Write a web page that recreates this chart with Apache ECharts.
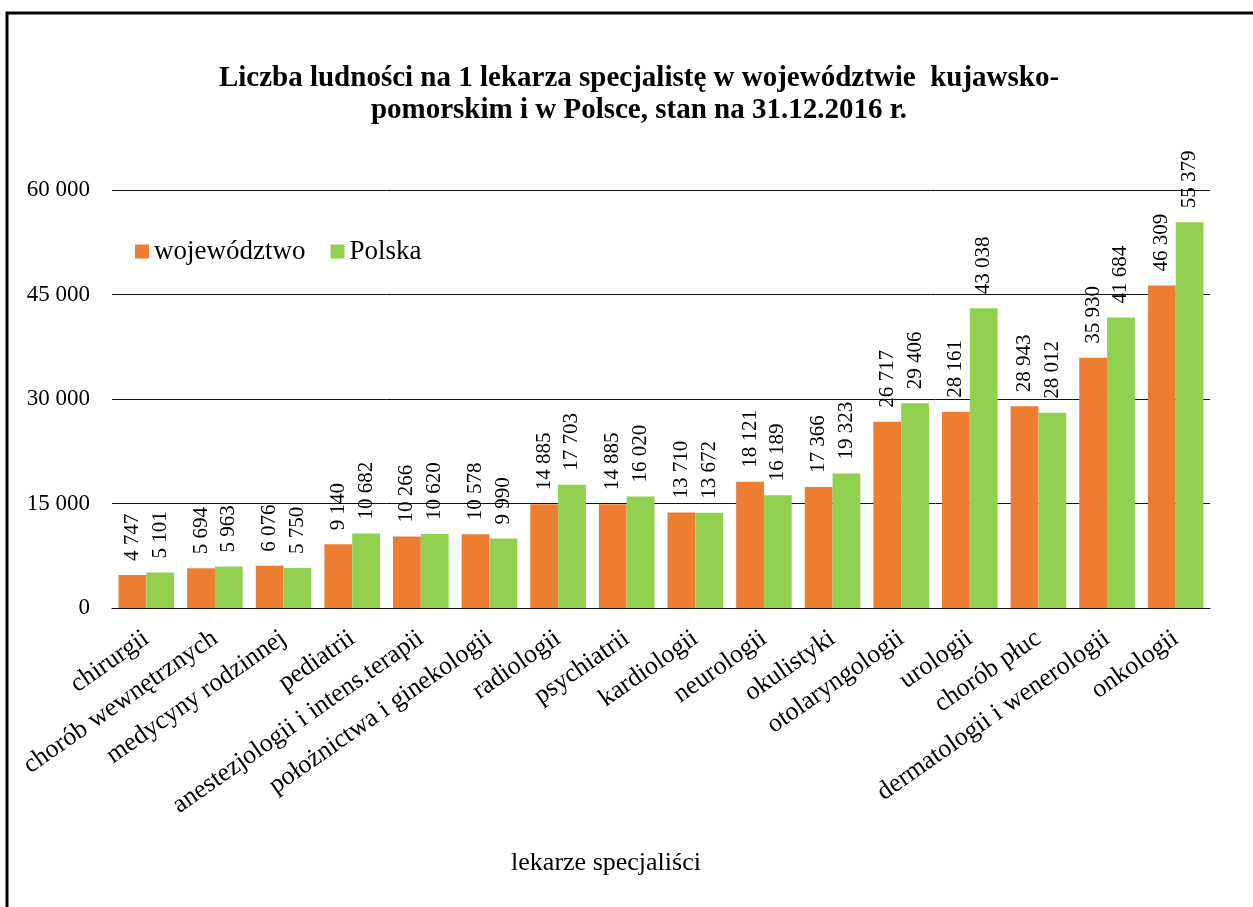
<!DOCTYPE html>
<html>
<head>
<meta charset="utf-8">
<script src="https://cdn.jsdelivr.net/npm/echarts@6/dist/echarts.min.js"></script>
<style>
  html, body { margin: 0; padding: 0; background: #fff; }
  #chart { width: 1253px; height: 907px; }
</style>
</head>
<body>
<div id="chart"></div>
<script>
// Specialisations (x axis)
const categories = [
  'chirurgii', 'chorób wewnętrznych', 'medycyny rodzinnej', 'pediatrii',
  'anestezjologii i intens.terapii', 'położnictwa i ginekologii', 'radiologii',
  'psychiatrii', 'kardiologii', 'neurologii', 'okulistyki', 'otolaryngologii',
  'urologii', 'chorób płuc', 'dermatologii i wenerologii', 'onkologii'
];
// Population per one specialist
const wojewodztwo = [4747, 5694, 6076, 9140, 10266, 10578, 14885, 14885, 13710, 18121, 17366, 26717, 28161, 28943, 35930, 46309];
const polska = [5101, 5963, 5750, 10682, 10620, 9990, 17703, 16020, 13672, 16189, 19323, 29406, 43038, 28012, 41684, 55379];
const seriesNames = ['województwo', 'Polska'];
const titleLines = ['Liczba ludności na 1 lekarza specjalistę w województwie  kujawsko-', 'pomorskim i w Polsce, stan na 31.12.2016 r.'];
const xAxisTitle = 'lekarze specjaliści';

const FONT = '"Liberation Serif", "Times New Roman", serif';
const fmt = v => String(v).replace(/\B(?=(\d{3})+(?!\d))/g, ' ');

const chart = echarts.init(document.getElementById('chart'), null, { renderer: 'canvas' });

const labelCfg = {
  show: true,
  position: 'top',
  rotate: 90,
  align: 'left',
  verticalAlign: 'middle',
  distance: 14,
  fontFamily: FONT,
  fontSize: 21,
  color: '#000',
  formatter: p => fmt(p.value)
};

chart.setOption({
  backgroundColor: '#fff',
  animation: false,
  textStyle: { fontFamily: FONT },
  title: {
    text: titleLines.join('\n'),
    left: 634,
    textAlign: 'center',
    top: 58,
    textStyle: { fontFamily: FONT, fontSize: 29, fontWeight: 'bold', color: '#000', lineHeight: 32 }
  },
  legend: {
    left: 130,
    top: 233,
    itemWidth: 14,
    itemHeight: 14,
    itemGap: 25,
    icon: 'rect',
    textStyle: { fontFamily: FONT, fontSize: 27, color: '#000' },
    data: seriesNames
  },
  grid: { left: 112, right: 43, top: 190, bottom: 299, containLabel: false },
  xAxis: {
    type: 'category',
    data: categories,
    axisLine: { lineStyle: { color: '#111', width: 1 } },
    axisTick: { show: false },
    axisLabel: {
      interval: 0,
      rotate: 35,
      margin: 28,
      fontFamily: FONT,
      fontSize: 26,
      color: '#000'
    }
  },
  yAxis: {
    type: 'value',
    min: 0,
    max: 60000,
    interval: 15000,
    axisLine: { show: false },
    axisTick: { show: false },
    splitLine: { lineStyle: { color: '#111', width: 1 } },
    axisLabel: {
      margin: 22,
      fontFamily: FONT,
      fontSize: 23,
      color: '#000',
      formatter: v => fmt(v)
    }
  },
  series: [
    {
      name: seriesNames[0],
      type: 'bar',
      data: wojewodztwo,
      barGap: '0%',
      barCategoryGap: '19%',
      itemStyle: { color: '#ED7D31' },
      label: labelCfg
    },
    {
      name: seriesNames[1],
      type: 'bar',
      data: polska,
      itemStyle: { color: '#92D050' },
      label: labelCfg
    }
  ],
  graphic: [
    {
      type: 'rect',
      shape: { x: 7, y: 13, width: 1300, height: 1000 },
      style: { fill: 'none', stroke: '#000', lineWidth: 3 },
      silent: true
    },
    {
      type: 'text',
      x: 606,
      y: 863,
      style: {
        text: xAxisTitle,
        fontFamily: FONT,
        fontSize: 26,
        fill: '#000',
        align: 'center',
        verticalAlign: 'middle'
      }
    }
  ]
});
</script>
</body>
</html>
